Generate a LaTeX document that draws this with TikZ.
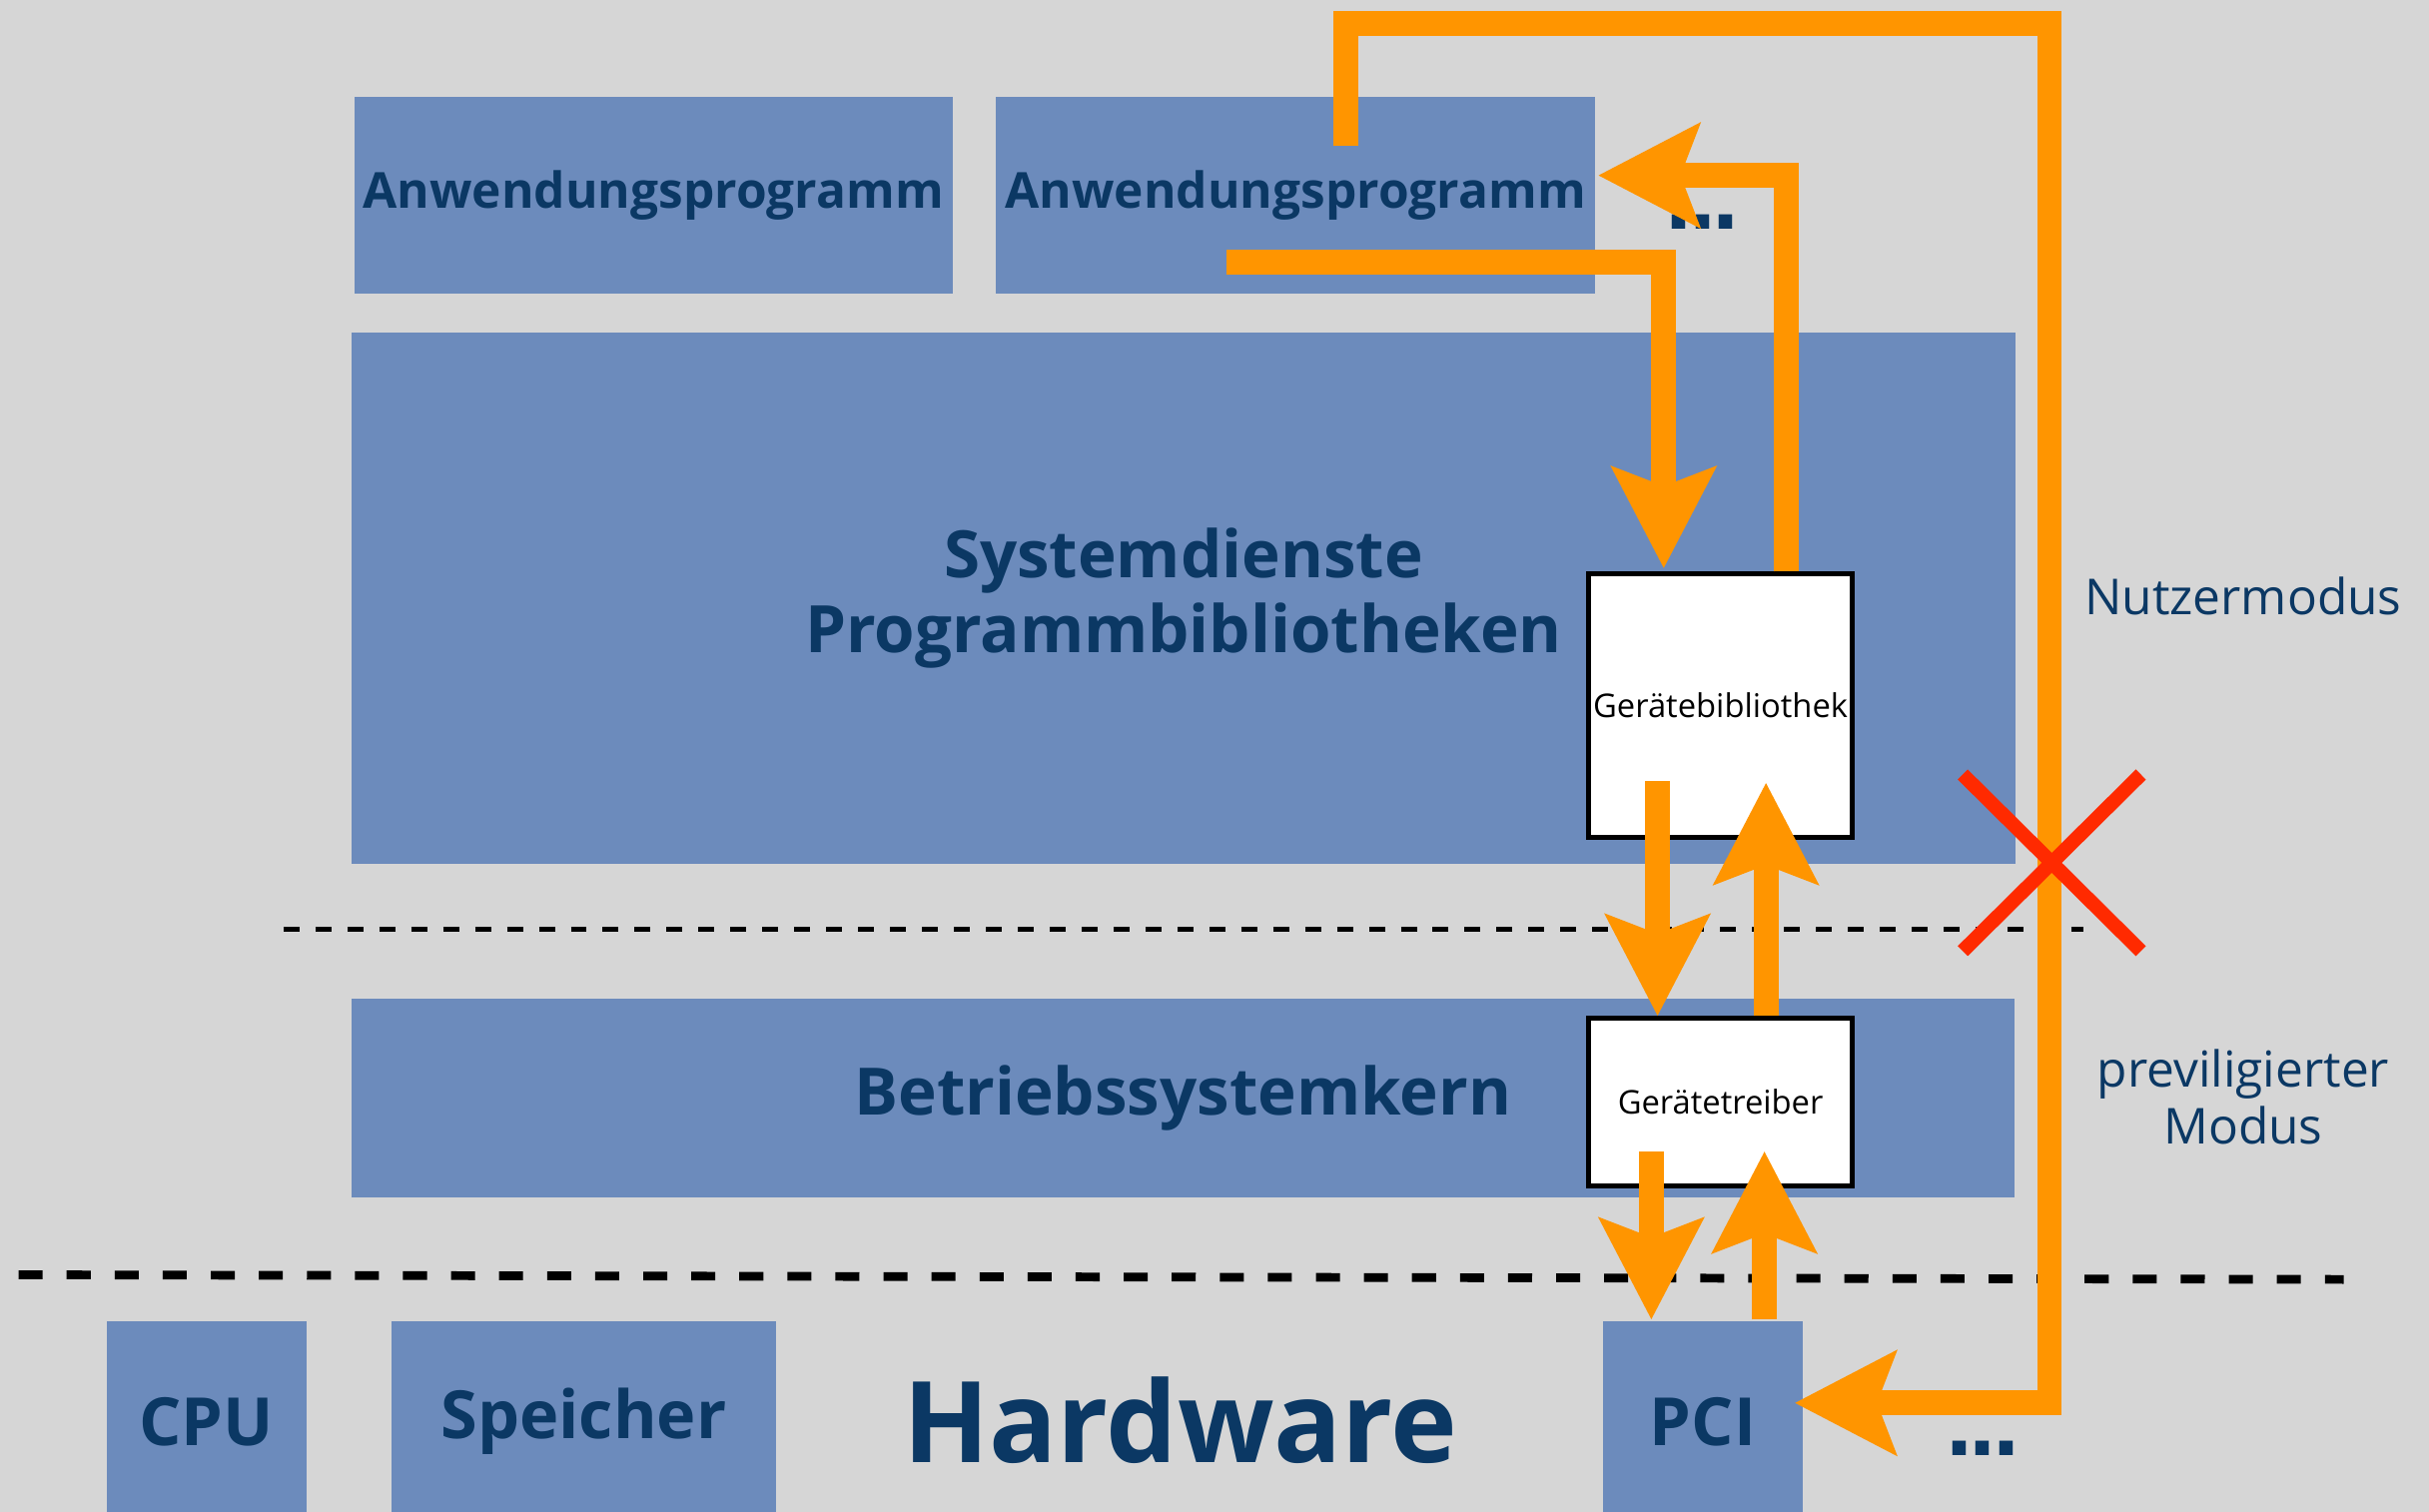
\documentclass[tikz,border=0pt]{standalone}
\usepackage{fontspec}
\setmainfont{Open Sans}
\newfontfamily\dotfont{DejaVu Sans}
\usetikzlibrary{arrows.meta, positioning}

\definecolor{bggray}{HTML}{D6D6D6}
\definecolor{layerblue}{HTML}{6C8BBC}
\definecolor{inkblue}{HTML}{0B3864}
\definecolor{floworange}{HTML}{FF9500}
\definecolor{blockred}{HTML}{FF2A00}

\newcommand{\moredotstext}{.\kern-1pt.\kern-1pt.}

\tikzset{
  layer/.style={fill=layerblue, text=inkblue, inner sep=0pt, anchor=north west, align=center},
  devbox/.style={fill=white, draw=black, line width=0.9pt, inner sep=0pt, anchor=north west,
    font=\fontsize{6}{7}\selectfont},
  flow/.style={draw=floworange, line width=4.55pt, line join=miter,
    -{Stealth[length=18.5pt, width=18.8pt, inset=3.4pt]}},
  modetext/.style={text=inkblue, align=center, font=\fontsize{9.1}{10.5}\selectfont},
  moredots/.style={text=inkblue, font=\dotfont\fontsize{14}{14}\bfseries, anchor=base,
    inner sep=0pt},
}

\begin{document}
\begin{tikzpicture}[x=0.01cm, y=-0.01cm]
  \fill[bggray] (0,0) rectangle (1568,976);
  \useasboundingbox (0,0) rectangle (1568,976);

  % user mode
  \node[layer, minimum width=3.86cm, minimum height=1.27cm, font=\fontsize{9.1}{11}\bfseries]
    (app1) at (228,62) {Anwendungsprogramm};
  \node[layer, minimum width=3.87cm, minimum height=1.27cm, font=\fontsize{9.1}{11}\bfseries]
    (app2) at (642,62) {Anwendungsprogramm};
  \node[moredots] (appdots) at (1099,148) {\moredotstext};
  \node[layer, minimum width=10.74cm, minimum height=3.43cm, font=\fontsize{12}{13.7}\bfseries]
    (services) at (226,214) {Systemdienste\\Programmbibliotheken};
  \node[devbox, minimum width=1.70cm, minimum height=1.70cm] (lib) at (1024,369) {Gerätebibliothek};

  % kernel
  \node[layer, minimum width=10.73cm, minimum height=1.28cm, font=\fontsize{12}{14}\bfseries]
    (kernel) at (226,644) {Betriebssystemkern};
  \node[devbox, minimum width=1.70cm, minimum height=1.08cm] (drv) at (1024,656) {Gerätetreiber};

  % hardware
  \node[layer, minimum width=1.29cm, minimum height=1.30cm, font=\fontsize{12.2}{14}\bfseries]
    (cpu) at (68,852) {CPU};
  \node[layer, minimum width=2.48cm, minimum height=1.30cm, font=\fontsize{12.2}{14}\bfseries]
    (mem) at (252,852) {Speicher};
  \node[layer, minimum width=1.29cm, minimum height=1.30cm, font=\fontsize{12.2}{14}\bfseries]
    (pci) at (1034,852) {PCI};
  \node[text=inkblue, font=\fontsize{20.7}{24}\bfseries] (hw) at (762,917) {Hardware};
  \node[moredots] (hwdots) at (1280,940) {\moredotstext};

  % mode borders
  \draw[black, line width=0.97pt, dash pattern=on 2.93pt off 2.93pt] (183,600) -- (1345,600);
  \draw[black, line width=1.6pt, dash pattern=on 4.41pt off 4.41pt] (12,823) -- (1513,826);
  \node[modetext] (user) at (1448,385) {Nutzermodus};
  \node[modetext] (priv) at (1448,708) {previligierter\\Modus};

  % calls
  \coordinate (loopstart) at (869,94);
  \coordinate (callstart) at (792,169);
  \draw[flow] (loopstart) |- (1323,15) |- ([shift={(-6,-12)}]pci.east);
  \draw[flow] (callstart) -| ([shift={(50,-2)}]lib.north west);
  \draw[flow] ([shift={(129,0)}]lib.north west) |- ([shift={(1,-13)}]app2.east);
  \draw[flow] ([shift={(46,-38)}]lib.south west) -- ([shift={(46,0)}]drv.north west);
  \draw[flow] ([shift={(116,0)}]drv.north west) -- ([shift={(116,-37)}]lib.south west);
  \draw[flow] ([shift={(42,-24)}]drv.south west) -- ([shift={(32,0)}]pci.north west);
  \draw[flow] ([shift={(105,0)}]pci.north west) -- ([shift={(115,-24)}]drv.south west);

  % no direct access
  \draw[blockred, line width=2.6pt] (1267,500) -- (1382,614) (1267,614) -- (1382,500);
\end{tikzpicture}
\end{document}
